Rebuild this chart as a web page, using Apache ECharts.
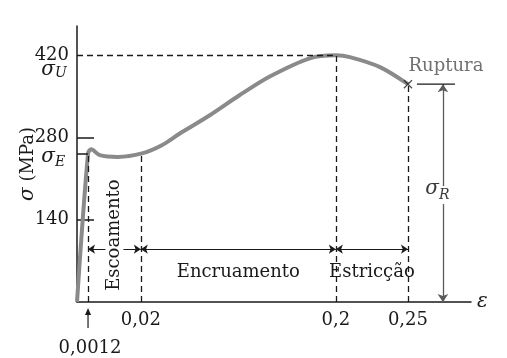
<!DOCTYPE html>
<html><head><meta charset="utf-8">
<script src="https://cdn.jsdelivr.net/npm/echarts@6/dist/echarts.min.js"></script>
<style>html,body{margin:0;padding:0;background:#fff}#c{width:507px;height:358px}</style>
</head><body><div id="c"></div>
<script>
// strain (ε) and stress σ (MPa)
const curveStrain = [0, 0.0012, 0.0023, 0.0054, 0.0118, 0.021, 0.0394, 0.056, 0.0837, 0.111, 0.139, 0.176, 0.2, 0.2097, 0.2306, 0.25];
const curveStress = [0, 253, 260, 250, 247, 253, 267, 287, 318, 352, 384, 415, 420, 417, 400, 371];
const xTickStrain = [0.02, 0.2, 0.25];
const xTickLabels = ['0,02', '0,2', '0,25'];
const yTickValues = [140, 280, 420];
const yTickMarks = [140, 280];
const yieldStrain = 0.0012, yieldLabel = '0,0012';
const yieldStress = 253;      // σE
const ultimateStrain = 0.2;
const ultimateStress = 420;   // σU
const ruptureStrain = 0.25;
const ruptureStress = 371;    // σR
const sigmaRStrain = 0.2744;  // position of the σR dimension arrow
const regionNames = ['Escoamento', 'Encruamento', 'Estricção'];
const regionBounds = [[0.0012, 0.02], [0.02, 0.2], [0.2, 0.25]];
const regionArrowStress = 90;
// schematic (not-to-scale) strain axis: piecewise-linear scale knots
const scaleStrain = [0, 0.0012, 0.02, 0.2, 0.25, 0.294];
const scaleAxis = [0, 0.028, 0.162, 0.657, 0.840, 1];

function tx(e) {
  for (let i = 1; i < scaleStrain.length; i++) {
    if (e <= scaleStrain[i] || i === scaleStrain.length - 1) {
      const a = scaleStrain[i - 1], b = scaleStrain[i];
      return scaleAxis[i - 1] + (e - a) / (b - a) * (scaleAxis[i] - scaleAxis[i - 1]);
    }
  }
}

const SERIF = '"DejaVu Serif", serif';
const ink = '#1a1a1a';
const chart = echarts.init(document.getElementById('c'));

const dash = { type: [6, 4], color: ink, width: 1.3 };
const option = {
  animation: false,
  backgroundColor: '#fff',
  grid: { left: 77, right: 36, top: 26, bottom: 56 },
  xAxis: {
    type: 'value', min: 0, max: 1,
    axisLine: { lineStyle: { color: ink, width: 1.5 } },
    axisTick: { show: false }, splitLine: { show: false },
    axisLabel: {
      customValues: xTickStrain.map(tx),
      formatter: v => { const i = xTickStrain.findIndex(e => Math.abs(tx(e) - v) < 1e-6); return i >= 0 ? xTickLabels[i] : ''; },
      fontFamily: SERIF, fontSize: 18, color: ink, margin: 9
    },
    name: 'ε', nameLocation: 'end', nameGap: 6,
    nameTextStyle: { fontFamily: SERIF, fontSize: 20, fontStyle: 'italic', color: ink, verticalAlign: 'middle' }
  },
  yAxis: {
    type: 'value', min: 0, max: 470,
    axisLine: { show: true, lineStyle: { color: ink, width: 1.5 } },
    axisTick: { show: true, inside: true, length: 17, customValues: yTickMarks, lineStyle: { color: ink, width: 1.5 } },
    axisLabel: { customValues: yTickValues, fontFamily: SERIF, fontSize: 18, color: ink, margin: 8 },
    splitLine: { show: false },
    name: '{s|σ} (MPa)', nameLocation: 'middle', nameGap: 39, nameRotate: 90, nameMoveOverlap: false,
    nameTextStyle: { fontFamily: SERIF, fontSize: 18, color: ink,
      rich: { s: { fontFamily: SERIF, fontSize: 20, fontStyle: 'italic', color: ink } } }
  },
  series: [
    {
      type: 'line', z: 3, showSymbol: false, smooth: 0.3,
      lineStyle: { color: '#8a8a8a', width: 4 },
      data: curveStrain.map((e, i) => [tx(e), curveStress[i]])
    },
    {
      type: 'line', data: [], silent: true,
      markLine: {
        silent: true, symbol: 'none', label: { show: false }, lineStyle: dash,
        data: [
          [{ coord: [0, ultimateStress] }, { coord: [tx(ultimateStrain), ultimateStress] }],
          [{ coord: [tx(yieldStrain), 0] }, { coord: [tx(yieldStrain), yieldStress] }],
          [{ coord: [tx(0.02), 0] }, { coord: [tx(0.02), yieldStress] }],
          [{ coord: [tx(ultimateStrain), 0] }, { coord: [tx(ultimateStrain), ultimateStress] }],
          [{ coord: [tx(ruptureStrain), 0] }, { coord: [tx(ruptureStrain), ruptureStress] }],
          [{ coord: [0, yieldStress], lineStyle: { type: 'solid', width: 1.5 } }, { coord: [tx(yieldStrain), yieldStress] }]
        ]
      }
    },
    {
      type: 'line', data: [], silent: true,
      markLine: {
        silent: true, symbol: ['arrow', 'arrow'], symbolSize: 7, label: { show: false },
        lineStyle: { type: 'solid', color: ink, width: 1 },
        data: regionBounds.map(b => [{ coord: [tx(b[0]), regionArrowStress] }, { coord: [tx(b[1]), regionArrowStress] }])
      }
    },
    {
      type: 'line', data: [], silent: true,
      markLine: {
        silent: true, symbol: ['arrow', 'arrow'], symbolSize: 8, label: { show: false },
        lineStyle: { type: 'solid', color: '#5a5a5a', width: 1.3 },
        data: [[{ coord: [tx(sigmaRStrain), 0] }, { coord: [tx(sigmaRStrain), ruptureStress] }]]
      }
    },
    {
      type: 'scatter', z: 4, silent: true,
      symbol: 'path://M0,1 L1,0 L5,4 L9,0 L10,1 L6,5 L10,9 L9,10 L5,6 L1,10 L0,9 L4,5 Z',
      symbolSize: 9, itemStyle: { color: ink },
      data: [[tx(ruptureStrain), ruptureStress]]
    }
  ]
};
chart.setOption(option);

const P = (e, s) => chart.convertToPixel({ xAxisIndex: 0, yAxisIndex: 0 }, [tx(e), s]);
const txt = (x, y, text, o) => ({ type: 'text', x, y, z: 10, silent: true,
  style: Object.assign({ text, fontFamily: SERIF, fontSize: 18, fill: ink, align: 'center', verticalAlign: 'middle' }, o || {}) });
const g = [];
// σU, σE labels next to the stress axis
const pU = P(0, ultimateStress), pE = P(0, yieldStress);
g.push(txt(pU[0] - 22, pU[1] + 14, 'σ', { fontStyle: 'italic', fontSize: 20, align: 'right' }));
g.push(txt(pU[0] - 22, pU[1] + 18, 'U', { fontStyle: 'italic', fontSize: 14, align: 'left' }));
g.push(txt(pE[0] - 22, pE[1] + 3, 'σ', { fontStyle: 'italic', fontSize: 20, align: 'right' }));
g.push(txt(pE[0] - 22, pE[1] + 9, 'E', { fontStyle: 'italic', fontSize: 14, align: 'left' }));
// region names
const a0 = P(regionBounds[0][0], regionArrowStress), a1 = P(regionBounds[0][1], regionArrowStress);
g.push({ type: 'text', x: (a0[0] + a1[0]) / 2, y: a0[1] - 14, rotation: Math.PI / 2, z: 10, silent: true,
  style: { text: regionNames[0], fontFamily: SERIF, fontSize: 18, fill: ink, align: 'center', verticalAlign: 'middle',
    backgroundColor: '#fff', padding: [0, 2] } });
for (let k = 1; k < 3; k++) {
  const b0 = P(regionBounds[k][0], regionArrowStress), b1 = P(regionBounds[k][1], regionArrowStress);
  g.push(txt((b0[0] + b1[0]) / 2, b0[1] + 23, regionNames[k]));
}
// rupture label
const pr = P(ruptureStrain, ruptureStress);
g.push(txt(pr[0] + 38, pr[1] - 18, 'Ruptura', { fill: '#707070' }));
g.push({ type: 'line', z: 10, silent: true, shape: { x1: pr[0] + 9, y1: pr[1], x2: pr[0] + 47, y2: pr[1] }, style: { stroke: ink, lineWidth: 1.3 } });
// σR label over its arrow
const ps = P(sigmaRStrain, ruptureStress / 2);
g.push(txt(ps[0] - 4, ps[1] - 4, 'σ', { fontStyle: 'italic', fontSize: 20, align: 'right', fill: '#3a3a3a', backgroundColor: '#fff', padding: [2, 0, 2, 4] }));
g.push(txt(ps[0] - 4, ps[1] + 2, 'R', { fontStyle: 'italic', fontSize: 14, align: 'left', fill: '#3a3a3a', backgroundColor: '#fff', padding: [2, 4, 2, 0] }));
// 0,0012 pointer below the axis
const py = P(yieldStrain, 0);
g.push({ type: 'line', z: 10, silent: true, shape: { x1: py[0], y1: py[1] + 26, x2: py[0], y2: py[1] + 9 }, style: { stroke: ink, lineWidth: 1.2 } });
g.push({ type: 'polygon', z: 10, silent: true, shape: { points: [[py[0], py[1] + 6], [py[0] - 3, py[1] + 13], [py[0] + 3, py[1] + 13]] }, style: { fill: ink } });
g.push(txt(py[0] + 2, py[1] + 46, yieldLabel));
chart.setOption({ graphic: g });
</script>
</body></html>
